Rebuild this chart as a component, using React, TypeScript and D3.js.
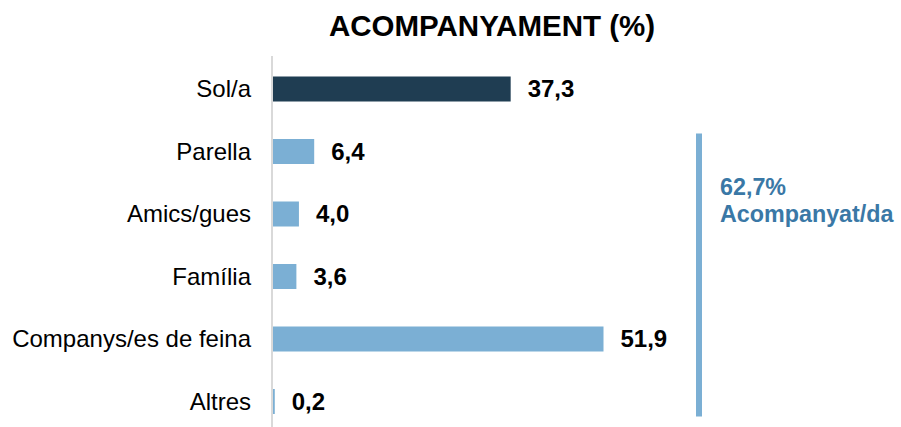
import React from "react";
import * as d3 from "d3";

const categories = ["Sol/a", "Parella", "Amics/gues", "Família", "Companys/es de feina", "Altres"];
const values = [37.3, 6.4, 4.0, 3.6, 51.9, 0.2];
const highlight = ["Sol/a"];
const title = "ACOMPANYAMENT (%)";
const bracketLabel = ["62,7%", "Acompanyat/da"];
const bracketCategories = ["Parella", "Altres"];

const W = 901;
const H = 427;
const FONT = "'Liberation Sans', Arial, Helvetica, sans-serif";

export default function App() {
  const x = d3.scaleLinear().domain([0, 51.9]).range([273.5, 603.5]);
  const y = d3.scaleBand<string>().domain(categories).range([57.75, 432.75]).paddingInner(0.6).paddingOuter(0.3);
  const fmt = (v: number) => d3.format(".1f")(v).replace(".", ",");
  const bh = 25;
  const bracketTop = (y(bracketCategories[0]) as number) + y.bandwidth() / 2 - 18;
  const bracketBottom = (y(bracketCategories[1]) as number) + y.bandwidth() / 2 + 15;
  return (
    <svg width={W} height={H} style={{ position: "absolute", left: 0, top: 0, background: "#fff" }} fontFamily={FONT}>
      <text x={492} y={36} textAnchor="middle" fontSize={29.5} fontWeight="bold" fill="#000">{title}</text>
      <line x1={272} x2={272} y1={56} y2={427} stroke="#D9D9D9" strokeWidth={2} />
      {categories.map((c, i) => {
        const cy = (y(c) as number) + y.bandwidth() / 2;
        const x1 = x(values[i]);
        return (
          <g key={c}>
            <rect x={273} y={cy - bh / 2} width={Math.max(0, x1 - 273)} height={bh}
              fill={highlight.includes(c) ? "#1F3D52" : "#7BAFD4"} />
            <text x={251} y={cy} dy="0.35em" textAnchor="end" fontSize={24} fill="#000">{c}</text>
            <text x={x1 + 17} y={cy} dy="0.35em" fontSize={24} fontWeight="bold" fill="#000">{fmt(values[i])}</text>
          </g>
        );
      })}
      <rect x={696} y={bracketTop} width={6} height={bracketBottom - bracketTop} fill="#7BAFD4" />
      <text x={720} y={195} fontSize={23.3} fontWeight="bold" fill="#3A78A6">{bracketLabel[0]}</text>
      <text x={720} y={222} fontSize={23.3} fontWeight="bold" fill="#3A78A6">{bracketLabel[1]}</text>
    </svg>
  );
}
